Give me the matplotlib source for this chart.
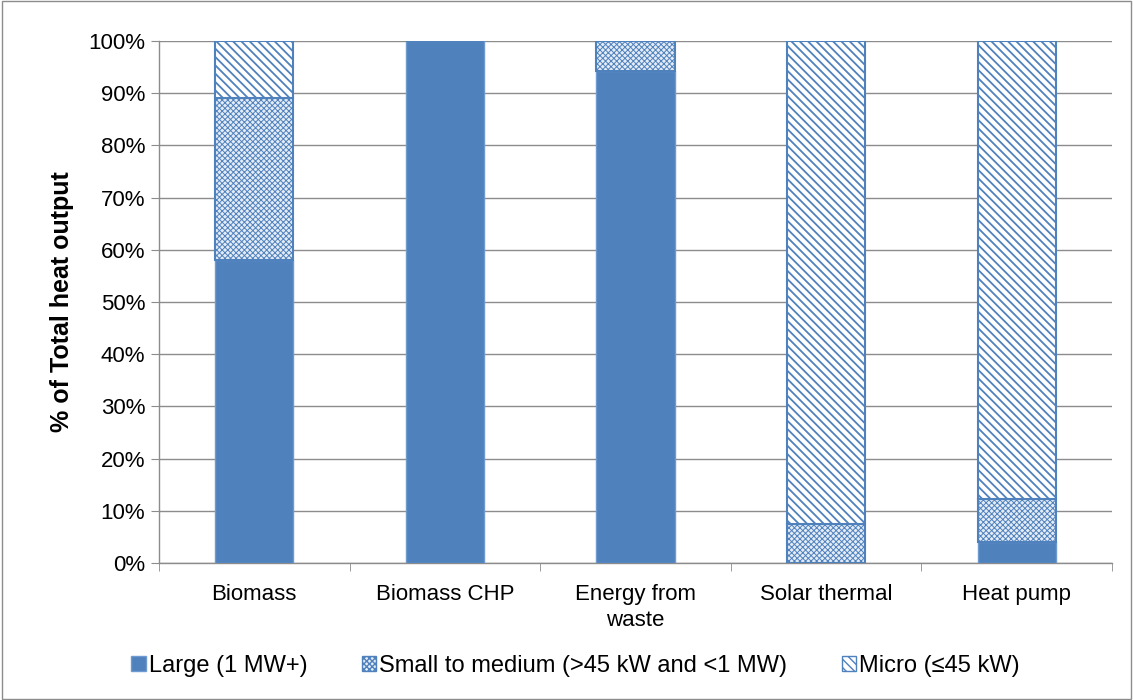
import matplotlib
matplotlib.use("Agg")
import matplotlib.pyplot as plt
import numpy as np
from matplotlib.patches import Rectangle

plt.rcParams['font.family'] = ['Liberation Sans', 'DejaVu Sans']
plt.rcParams['hatch.color'] = '#4F81BD'

categories = ["Biomass", "Biomass CHP", "Energy from\nwaste", "Solar thermal", "Heat pump"]
large = [58.0, 100.0, 94.3, 0.0, 4.0]
small_medium = [31.1, 0.0, 5.7, 7.5, 8.3]
micro = [10.9, 0.0, 0.0, 92.5, 87.7]
series_names = ["Large (1 MW+)", "Small to medium (>45 kW and <1 MW)", "Micro (\u226445 kW)"]
yticks = list(range(0, 101, 10))

blue = '#4F81BD'
light = '#E4ECF6'
FS = 16

fig = plt.figure(figsize=(11.33, 7.0), dpi=100)
ax = fig.add_axes([159/1133, 1-563/700, (1112-159)/1133, (563-41)/700])

x = np.arange(len(categories))
w = 0.41
ax.bar(x, large, w, color=blue, edgecolor='#6F9AD0', linewidth=1.0, zorder=3)
with plt.rc_context({'hatch.linewidth': 0.7}):
    ax.bar(x, small_medium, w, bottom=large, color=light, edgecolor=blue,
           hatch='xxxxxx', linewidth=1.5, zorder=3)
    h2 = Rectangle((0, 0), 1, 1, facecolor=light, edgecolor=blue, hatch='xxxxxx')
bottom2 = [a + b for a, b in zip(large, small_medium)]
with plt.rc_context({'hatch.linewidth': 1.3}):
    ax.bar(x, micro, w, bottom=bottom2, color='white', edgecolor=blue,
           hatch='\\\\\\\\', linewidth=1.5, zorder=3)
    h3 = Rectangle((0, 0), 1, 1, facecolor='white', edgecolor=blue, hatch='\\\\\\\\')

ax.set_xlim(-0.5, len(categories) - 0.5)
ax.set_ylim(0, 100)
ax.set_yticks(yticks)
ax.set_yticklabels([f"{t}%" for t in yticks], fontsize=FS)
ax.yaxis.grid(True, color='#8C8C8C', linewidth=1.0, zorder=0)
ax.set_axisbelow(True)

ax.set_xticks(x)
ax.set_xticklabels(categories, fontsize=FS, linespacing=1.3)
ax.set_xticks(np.arange(-0.5, len(categories), 1.0), minor=True)
ax.tick_params(axis='x', which='major', length=0, pad=15)
ax.tick_params(axis='x', which='minor', length=6, color='#8C8C8C')
ax.tick_params(axis='y', length=6, color='#8C8C8C', pad=4)

for s in ['top', 'right']:
    ax.spines[s].set_visible(False)
for s in ['left', 'bottom']:
    ax.spines[s].set_color('#8C8C8C')
    ax.spines[s].set_linewidth(1.0)

ax.set_ylabel("% of Total heat output", fontsize=18, fontweight='bold', labelpad=10)

handles = [
    Rectangle((0, 0), 1, 1, facecolor=blue, edgecolor='#6F9AD0'),
    h2,
    h3,
]
fig.legend(handles, series_names, loc='center', bbox_to_anchor=(0.508, 1-666/700),
           ncol=3, frameon=False, fontsize=17, handlelength=0.62, handleheight=0.62,
           handletextpad=0.13, columnspacing=2.3)

border = Rectangle((0.002, 0.002), 0.996, 0.996, transform=fig.transFigure,
                   fill=False, edgecolor='#8C8C8C', linewidth=1.0)
fig.patches.append(border)

fig.savefig("out.png", dpi=100)
